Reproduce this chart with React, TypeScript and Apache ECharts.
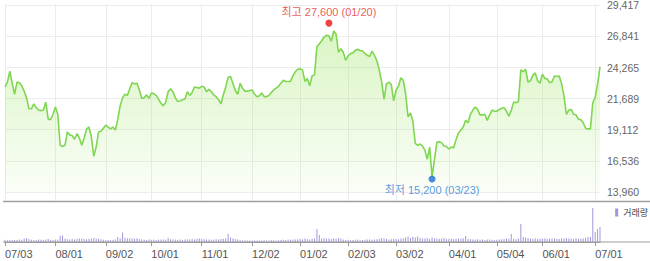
import React, { useEffect, useRef } from 'react';
import * as echarts from 'echarts';

// ---- categories: KRX trading days 2019-07-03 .. 2020-07-03 ----
const START_DATE = '2019-07-03';
const END_DATE = '2020-07-03';
const HOLIDAYS = [
  '2019-08-15', '2019-09-12', '2019-09-13', '2019-10-03', '2019-10-09',
  '2019-12-25', '2019-12-31', '2020-01-01', '2020-01-24', '2020-01-27',
  '2020-04-15', '2020-04-30', '2020-05-01', '2020-05-05',
];

function tradingDays(): string[] {
  const out: string[] = [];
  const d = new Date(START_DATE + 'T00:00:00Z');
  const end = new Date(END_DATE + 'T00:00:00Z');
  while (d <= end) {
    const iso = d.toISOString().slice(0, 10);
    const wd = d.getUTCDay();
    if (wd !== 0 && wd !== 6 && HOLIDAYS.indexOf(iso) < 0) {
      out.push(iso.slice(5, 7) + '/' + iso.slice(8, 10));
    }
    d.setUTCDate(d.getUTCDate() + 1);
  }
  return out;
}
const DATES = tradingDays();

// ---- daily close (KRW) ----
const CLOSE = [
  22600, 23000, 23900, 22900, 22000, 23000, 22950, 22700, 22250, 21700,
  20800, 20800, 21200, 20900, 20700, 20650, 20700, 21350, 19950, 19900,
  20350, 20950, 20350, 17800, 17700, 17800, 18900, 18650, 18600, 18300,
  18750, 18400, 17800, 18400, 19150, 19300, 18500, 16900, 17650, 18900,
  18950, 19200, 19450, 19300, 19150, 19300, 19050, 19950, 21050, 21700,
  22000, 21900, 22450, 22950, 22850, 22900, 22350, 21650, 21700, 21950,
  21650, 22100, 22050, 21900, 21600, 21250, 21050, 21350, 22200, 22450,
  22200, 21700, 21400, 21450, 21550, 21600, 22200, 21900, 22150, 22600,
  22550, 22500, 22650, 22600, 22200, 22400, 22200, 21950, 21800, 21550,
  21200, 21950, 22600, 23400, 23450, 22900, 22300, 22000, 22900, 22500,
  22250, 22250, 22300, 22350, 22000, 21800, 21850, 22100, 21800, 21800,
  21900, 22150, 22350, 22500, 22650, 22900, 23150, 23050, 23050, 23050,
  23500, 23850, 24050, 24100, 24000, 23050, 23300, 22700, 23500, 23600,
  25900, 26150, 26400, 26700, 26850, 26800, 26350, 27200, 26950, 25450,
  25750, 25450, 24800, 25150, 25350, 25400, 25600, 25700, 25600, 25550,
  25350, 25200, 25100, 25550, 25200, 24750, 24000, 23000, 21600, 22850,
  23000, 22800, 21450, 22350, 22650, 23350, 23150, 22000, 20150, 20450,
  19800, 17950, 17800, 17900, 17750, 17400, 16650, 17650, 15200, 16600,
  18050, 18100, 18000, 17750, 17700, 17500, 17650, 17600, 18250, 18800,
  19050, 19300, 19850, 19650, 20350, 20700, 20950, 20750, 20300, 20300,
  20350, 19850, 20300, 20700, 20600, 20600, 20750, 20850, 20900, 20600,
  20200, 20650, 21350, 21300, 21400, 24000, 23850, 24050, 23000, 23100,
  23550, 23750, 23100, 22900, 23650, 23300, 23250, 22950, 23000, 23500,
  23450, 23500, 22850, 21850, 20350, 20700, 20750, 20350, 20300, 19950,
  19900, 19650, 19200, 19150, 19150, 21300, 21750, 22850, 24250,
];

// ---- daily volume (thousand shares) ----
const VOLUME = [
  110, 90, 100, 95, 105, 100, 120, 110, 180, 200,
  150, 110, 100, 95, 120, 110, 100, 130, 150, 110,
  100, 120, 130, 300, 330, 160, 140, 130, 150, 120,
  160, 170, 180, 150, 140, 160, 180, 200, 170, 150,
  140, 110, 100, 100, 90, 110, 120, 250, 180, 480,
  200, 180, 190, 170, 160, 190, 150, 120, 110, 100,
  130, 110, 120, 100, 110, 120, 130, 110, 200, 140,
  120, 130, 110, 120, 100, 130, 140, 120, 150, 130,
  160, 170, 150, 140, 120, 130, 110, 120, 140, 130,
  160, 150, 170, 400, 220, 180, 150, 130, 90, 80,
  85, 70, 75, 80, 70, 75, 80, 70, 85, 75,
  80, 90, 85, 80, 90, 100, 110, 100, 120, 110,
  130, 120, 140, 150, 130, 180, 150, 120, 160, 170,
  650, 350, 180, 200, 160, 170, 150, 190, 160, 200,
  170, 120, 100, 110, 90, 100, 110, 120, 90, 100,
  110, 120, 130, 110, 120, 140, 160, 200, 170, 150,
  130, 140, 160, 150, 130, 170, 190, 220, 280, 200,
  260, 230, 270, 200, 180, 170, 200, 160, 220, 190,
  170, 160, 180, 200, 150, 160, 170, 150, 160, 170,
  180, 190, 300, 150, 140, 130, 120, 140, 110, 120,
  100, 120, 130, 110, 90, 110, 120, 130, 150, 170,
  160, 400, 160, 140, 180, 900, 250, 220, 200, 180,
  160, 170, 150, 160, 180, 170, 150, 160, 170, 180,
  160, 150, 170, 180, 200, 170, 160, 150, 170, 160,
  180, 170, 200, 250, 260, 1700, 500, 650, 750,
];

// ---- y-axis tick labels ----
const Y_TICK_MIN = 13960;
const Y_TICK_MAX = 29417;
const Y_SPLITS = 6;

// ---- annotations ----
const HIGH_DATE = '01/20';
const HIGH_VALUE = 27600;
const LOW_DATE = '03/23';
const LOW_VALUE = 15200;

const FONT = '"Liberation Sans", "Noto Sans CJK KR", Arial, sans-serif';

export default function App() {
  const ref = useRef<HTMLDivElement>(null);

  useEffect(() => {
    if (!ref.current) return;
    const chart = echarts.init(ref.current, undefined, { renderer: 'svg' });

    const step = (Y_TICK_MAX - Y_TICK_MIN) / Y_SPLITS;
    const toU = (v: number) => (v - Y_TICK_MIN) / step;
    const mainTop = 4;
    const mainHeight = 197; // plot area incl. bottom padding
    const tickSpan = 188; // px covered by the labelled range
    const padU = (mainHeight - tickSpan) / (tickSpan / Y_SPLITS);

    const isMonthStart = (i: number) =>
      i === 0 || DATES[i].slice(0, 2) !== DATES[i - 1].slice(0, 2);

    const hiIdx = DATES.indexOf(HIGH_DATE);
    const loIdx = DATES.indexOf(LOW_DATE);
    const fmt = (v: number) => v.toLocaleString('en-US');

    chart.setOption({
      animation: false,
      textStyle: { fontFamily: FONT },
      grid: [
        { left: 5, right: 50, top: mainTop, height: mainHeight },
        { left: 5, right: 50, top: 206, height: 36 },
        { left: 5, right: 50, top: mainTop, height: tickSpan },
      ],
      legend: {
        data: [{ name: '거래량', icon: 'rect' }],
        right: 2,
        top: 208,
        padding: 0,
        itemWidth: 3,
        itemHeight: 8,
        itemGap: 2,
        itemTextGap: 3,
        selectedMode: false,
        textStyle: { fontSize: 9, color: '#444', fontFamily: FONT },
      },
      xAxis: [
        {
          type: 'category',
          gridIndex: 0,
          data: DATES,
          boundaryGap: false,
          axisLine: { show: false },
          axisTick: { show: false },
          axisLabel: { show: false },
          splitLine: {
            show: true,
            interval: (i: number) => isMonthStart(i),
            lineStyle: { color: '#ececec', width: 1 },
          },
        },
        {
          type: 'category',
          gridIndex: 1,
          data: DATES,
          boundaryGap: false,
          axisLine: { show: true, lineStyle: { color: '#9a9a9a', width: 1 } },
          axisTick: {
            show: true,
            interval: (i: number) => isMonthStart(i),
            length: 4,
            lineStyle: { color: '#9a9a9a' },
          },
          axisLabel: {
            interval: (i: number) => isMonthStart(i),
            align: 'left',
            margin: 6,
            fontSize: 11,
            color: '#555',
            fontFamily: FONT,
          },
          splitLine: { show: false },
        },
        {
          type: 'category',
          gridIndex: 2,
          data: DATES,
          boundaryGap: false,
          show: false,
        },
      ],
      yAxis: [
        {
          type: 'value',
          gridIndex: 0,
          min: -padU,
          max: Y_SPLITS,
          show: false,
          splitLine: { show: false },
        },
        {
          type: 'value',
          gridIndex: 1,
          min: 0,
          max: 1800,
          show: false,
          splitLine: { show: false },
        },
        {
          type: 'value',
          gridIndex: 2,
          position: 'right',
          min: 0,
          max: Y_SPLITS,
          interval: 1,
          axisLine: { show: false },
          axisTick: { show: false },
          axisLabel: {
            margin: 7,
            fontSize: 10.5,
            color: '#666',
            fontFamily: FONT,
            formatter: (u: number) => fmt(Math.round(Y_TICK_MIN + u * step)),
          },
          splitLine: { show: true, lineStyle: { color: '#ececec', width: 1 } },
        },
      ],
      series: [
        {
          name: '종가',
          type: 'line',
          xAxisIndex: 0,
          yAxisIndex: 0,
          data: CLOSE.map(toU),
          showSymbol: false,
          symbol: 'none',
          lineStyle: { color: '#7fd650', width: 1.6 },
          areaStyle: {
            color: new echarts.graphic.LinearGradient(0, 0, 0, 1, [
              { offset: 0, color: 'rgba(170,232,120,0.62)' },
              { offset: 1, color: 'rgba(170,232,120,0.08)' },
            ]),
          },
          z: 2,
        },
        {
          name: 'high',
          type: 'scatter',
          xAxisIndex: 0,
          yAxisIndex: 0,
          data: [[hiIdx, toU(HIGH_VALUE)]],
          symbolSize: 7,
          symbolOffset: [0, -3],
          itemStyle: { color: '#ee1111' },
          label: {
            show: true,
            position: 'top',
            distance: 2,
            formatter: `최고 ${fmt(HIGH_VALUE)} (${HIGH_DATE})`,
            color: '#e8302c',
            fontSize: 11,
            fontFamily: FONT,
          },
          z: 5,
        },
        {
          name: 'low',
          type: 'scatter',
          xAxisIndex: 0,
          yAxisIndex: 0,
          data: [[loIdx, toU(LOW_VALUE)]],
          symbolSize: 7,
          symbolOffset: [0, 2],
          itemStyle: { color: '#1a6fd6' },
          label: {
            show: true,
            position: 'bottom',
            distance: 2,
            formatter: `최저 ${fmt(LOW_VALUE)} (${LOW_DATE})`,
            color: '#2f7fd8',
            fontSize: 11,
            fontFamily: FONT,
          },
          z: 5,
        },
        {
          name: '거래량',
          type: 'bar',
          xAxisIndex: 1,
          yAxisIndex: 1,
          data: VOLUME,
          barWidth: 1,
          itemStyle: { color: '#a594dc' },
        },
      ],
      graphic: [
        {
          type: 'line',
          shape: { x1: 3, y1: 201.5, x2: 650, y2: 201.5 },
          style: { stroke: '#a0a0a0', lineWidth: 1.5 },
          z: 10,
        },
        {
          type: 'line',
          shape: { x1: 3, y1: 242, x2: 650, y2: 242 },
          style: { stroke: '#9a9a9a', lineWidth: 1 },
          z: 10,
        },
      ],
    });

    return () => chart.dispose();
  }, []);

  return (
    <div
      ref={ref}
      style={{ position: 'fixed', left: 0, top: 0, width: 650, height: 261, background: '#fff' }}
    />
  );
}
